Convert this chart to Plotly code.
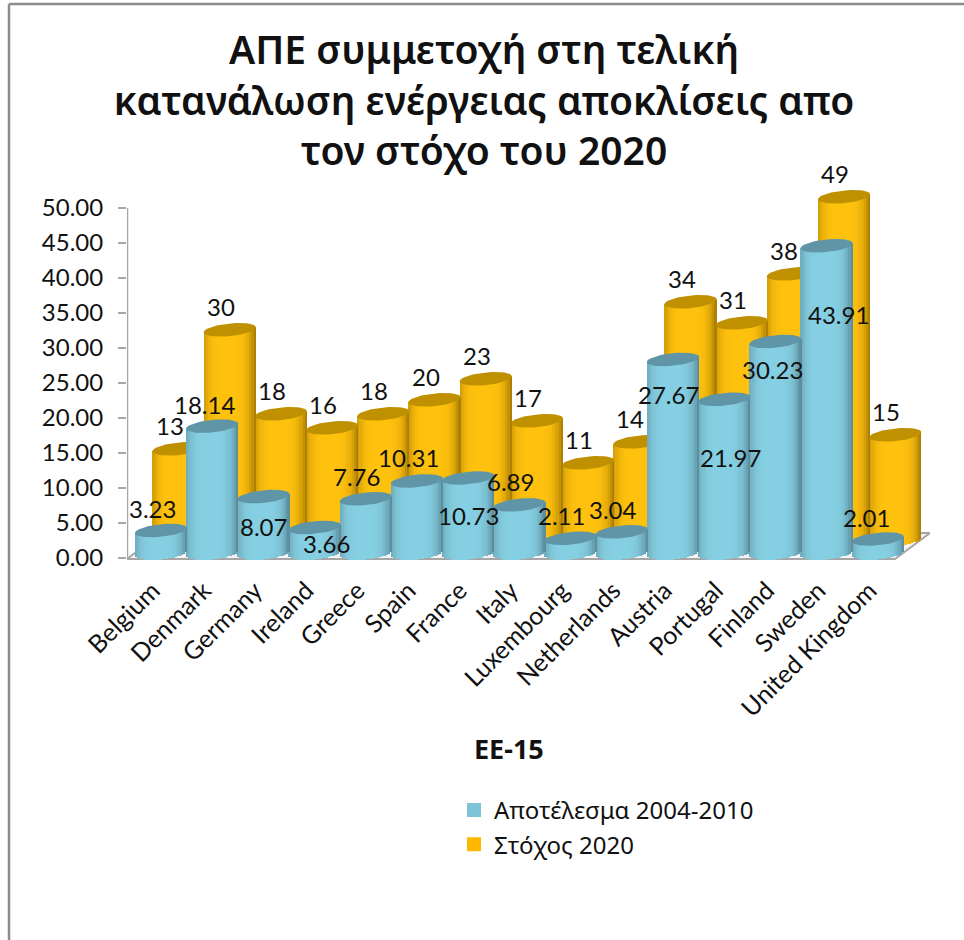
import math
import plotly.graph_objects as go

# ---- data ----
categories = ["Belgium", "Denmark", "Germany", "Ireland", "Greece", "Spain", "France", "Italy",
              "Luxembourg", "Netherlands", "Austria", "Portugal", "Finland", "Sweden", "United Kingdom"]
result_2004_2010 = [3.23, 18.14, 8.07, 3.66, 7.76, 10.31, 10.73, 6.89, 2.11, 3.04, 27.67, 21.97, 30.23, 43.91, 2.01]
target_2020 = [13, 30, 18, 16, 18, 20, 23, 17, 11, 14, 34, 31, 38, 49, 15]
y_ticks = [0, 5, 10, 15, 20, 25, 30, 35, 40, 45, 50]
series_names = ["Αποτέλεσμα 2004-2010", "Στόχος 2020"]
title_text = "ΑΠΕ συμμετοχή στη τελική<br>κατανάλωση ενέργειας αποκλίσεις απο<br>τον στόχο του 2020"
x_title = "ΕΕ-15"

# ---- style / pseudo-3D geometry ----
W, H = 964, 940
PL, PR, PT, PB = 127, 930, 170, 570      # plot box in page pixels
PX_Y, PX_X = 7.0, 51.2                   # pixels per unit
Y0 = 558
yr = [(Y0 - PB) / PX_Y, (Y0 - PT) / PX_Y]
xr = [-0.5, -0.5 + (PR - PL) / PX_X]
FONT = "Lato, 'Noto Sans', sans-serif"
GREEK = "'Noto Sans', sans-serif"
AXIS = "#A6A6A6"

A = 0.51      # cylinder half width, x units
B = 0.90      # ellipse half height, y units
TILT = 0.36   # rise of the ellipse towards its right side, y units
N = 24        # shading strips per cylinder
BLUE = dict(dx=0.164, base=0.7, dark=(84, 132, 147), light=(134, 208, 227), cap="#6095A7", legend=(127, 195, 214))
GOLD = dict(dx=0.506, base=2.6, dark=(160, 116, 0), light=(255, 194, 14), cap="#BF9000", legend=(255, 184, 0))

blue_label_shift = [(-9, 22), (-8, 22), (0, -30), (12, -16), (-9, 22), (-9, 23), (0, -38), (-9, 23),
                    (-9, 23), (-9, 22), (-5, -35), (6, -58), (-3, -28), (12, -69), (-11, 22)]
gold_label_shift = (-9, 23)


def shade(st, u):
    f = 1 - abs((u + 0.08) / 1.08) ** 4
    c = [st["dark"][k] + (st["light"][k] - st["dark"][k]) * f for k in range(3)]
    return "rgb(%d,%d,%d)" % tuple(c)


def cylinders(fig, values, st, name, rank, xa, ya):
    xs = [i + st["dx"] for i in range(len(values))]
    tops = [v + st["base"] for v in values]
    w = 2 * A / N
    for s in range(N):
        u0 = -1 + 2 * s / N
        um = u0 + 1 / N
        foot = st["base"] + TILT * um - B * math.sqrt(max(0, 1 - um * um))
        head = [t + TILT * um for t in tops]
        fig.add_trace(go.Bar(
            x=xs, y=[h - foot for h in head], base=[foot] * len(values),
            width=w * (1.25 if s < N - 1 else 1), offset=u0 * A,
            marker=dict(color=shade(st, um), line=dict(width=0)),
            xaxis=xa, yaxis=ya, hoverinfo="skip", showlegend=False))
    # tops
    ex, ey = [], []
    for x, t in zip(xs, tops):
        for k in range(49):
            a = 2 * math.pi * k / 48
            ex.append(x + A * math.cos(a))
            ey.append(t + TILT * math.cos(a) + B * math.sin(a))
        ex.append(None)
        ey.append(None)
    fig.add_trace(go.Scatter(x=ex, y=ey, mode="lines", fill="toself", fillcolor=st["cap"],
                             line=dict(width=0, color=st["cap"]), xaxis=xa, yaxis=ya,
                             hoverinfo="skip", showlegend=False))
    # legend key
    key = "rgb(%d,%d,%d)" % st["legend"]
    fig.add_trace(go.Bar(x=[None], y=[None], name=name, legendrank=rank, legendgroup=name,
                         marker=dict(color=key, line=dict(color=key, width=2)), xaxis=xa, yaxis=ya))


fig = go.Figure()
cylinders(fig, target_2020, GOLD, series_names[1], 2, "x", "y")
cylinders(fig, result_2004_2010, BLUE, series_names[0], 1, "x2", "y2")

ann = []
for i, v in enumerate(target_2020):
    ann.append(dict(x=i + GOLD["dx"], y=v + GOLD["base"], text=str(v), xref="x", yref="y", showarrow=False,
                    xanchor="center", yanchor="middle", xshift=gold_label_shift[0], yshift=gold_label_shift[1],
                    font=dict(family=FONT, size=24, color="#111")))
for i, v in enumerate(result_2004_2010):
    sx, sy = blue_label_shift[i]
    ann.append(dict(x=i + BLUE["dx"], y=v + BLUE["base"], text="%.2f" % v, xref="x", yref="y", showarrow=False,
                    xanchor="center", yanchor="middle", xshift=sx, yshift=sy,
                    font=dict(family=FONT, size=24, color="#111")))


def px(x):
    return (x - PL) / (PR - PL)


def py(y):
    return (PB - y) / (PB - PT)


ann.append(dict(x=px(509), y=py(748), xref="paper", yref="paper", text="<b>%s</b>" % x_title, showarrow=False,
                xanchor="center", yanchor="middle", font=dict(family=GREEK, size=27, color="#111")))

fl = -0.15
ft = (Y0 - 533) / PX_Y
depth = 35 / PX_X
shapes = [
    dict(type="path", xref="x", yref="y", layer="below",
         path="M -0.5 %f L 14.5 %f L %f %f L %f %f Z" % (fl, fl, 14.5 + depth, ft, -0.5 + depth, ft),
         fillcolor="#F4F4F4", line=dict(color=AXIS, width=2)),
    dict(type="line", xref="x", yref="y", layer="below", x0=-0.5, x1=-0.5, y0=fl, y1=50,
         line=dict(color=AXIS, width=2.5)),
    dict(type="line", xref="paper", yref="paper", x0=px(9), x1=px(W), y0=py(4), y1=py(4),
         line=dict(color="#8C8C8C", width=2.5)),
    dict(type="line", xref="paper", yref="paper", x0=px(9), x1=px(9), y0=py(4), y1=py(H),
         line=dict(color="#8C8C8C", width=2.5)),
]

fig.update_layout(
    width=W, height=H, autosize=False, paper_bgcolor="white", plot_bgcolor="rgba(0,0,0,0)",
    margin=dict(l=PL, r=W - PR, t=PT, b=H - PB, pad=0),
    barmode="overlay", bargap=0,
    title=dict(text=title_text, x=484 / W, xanchor="center", xref="container",
               y=1 - 64 / H, yanchor="top", font=dict(family=GREEK, size=39, color="#111", weight=600)),
    xaxis=dict(range=xr, tickmode="array", tickvals=list(range(len(categories))), ticktext=categories,
               tickangle=-45, showgrid=False, zeroline=False, showline=False, ticks="",
               tickfont=dict(family=FONT, size=25, color="#111"), fixedrange=True),
    yaxis=dict(range=yr, tickmode="array", tickvals=y_ticks, tickformat=".2f", showgrid=False, zeroline=False,
               showline=False, ticks="outside", ticklen=8, tickwidth=2, tickcolor=AXIS, ticklabelstandoff=10,
               tickfont=dict(family=FONT, size=24, color="#111"), fixedrange=True),
    xaxis2=dict(range=xr, overlaying="x", visible=False, fixedrange=True),
    yaxis2=dict(range=yr, overlaying="y", visible=False, fixedrange=True),
    legend=dict(x=px(454), y=py(788), xanchor="left", yanchor="top", bgcolor="rgba(0,0,0,0)",
                font=dict(family=GREEK, size=24, color="#111"), tracegroupgap=0, itemclick=False,
                itemdoubleclick=False),
    annotations=ann, shapes=shapes,
)
fig.write_html("out.html", config={"displayModeBar": False}, post_script="document.body.style.margin='0';")
